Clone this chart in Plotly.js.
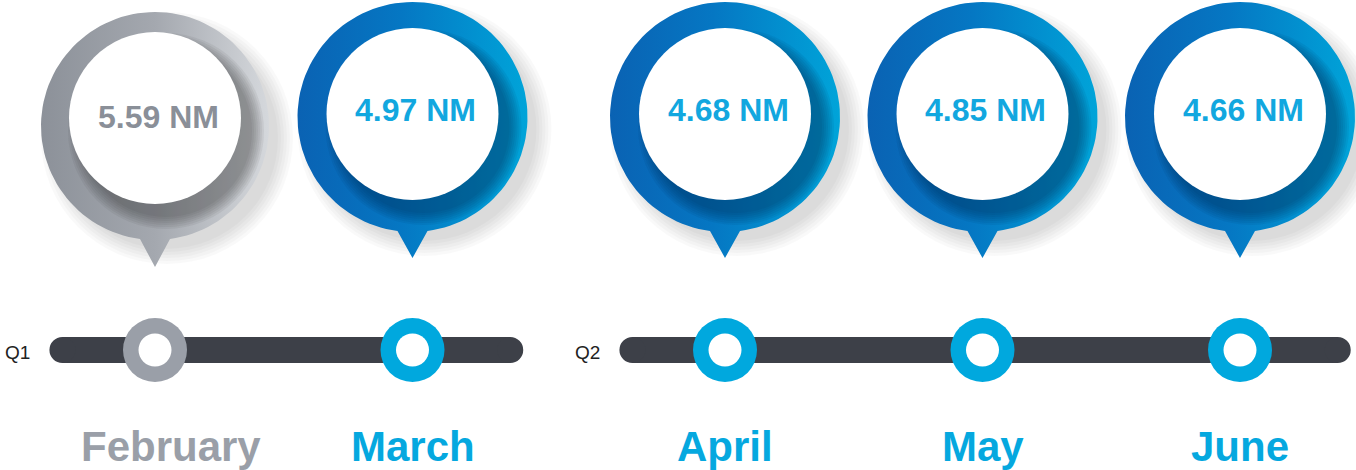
<!DOCTYPE html>
<html>
<head>
<meta charset="utf-8">
<script src="https://cdn.plot.ly/plotly-3.0.1.min.js"></script>
<style>html,body{margin:0;padding:0;background:#fff;}#chart{width:1356px;height:470px;}</style>
</head>
<body>
<div id="chart"></div>
<script>
// ---- data ----
const months = ['February', 'March', 'April', 'May', 'June'];
const monthNumbers = [2, 3, 4, 5, 6];
const quarters = ['Q1', 'Q1', 'Q2', 'Q2', 'Q2'];
const values = [5.59, 4.97, 4.68, 4.85, 4.66];
const quarterLabels = ['Q1', 'Q2'];
const unit = 'NM';

// ---- layout constants ----
const W = 1356, H = 470;
const PX_PER_SLOT = 257.5;            // pixels per month on the x axis
const QUARTER_GAP = 55 / PX_PER_SLOT; // extra gap between quarters (in months)
const X_START = 2 - 155 / PX_PER_SLOT;
const dx = px => px / PX_PER_SLOT;    // pixel distance -> x units (y axis is in pixel units)

const BLUE_SCALE = [[0, '#0A62B3'], [0.45, '#0577C3'], [1, '#00A4D9']];
const GREY_SCALE = [[0, '#8C9199'], [0.5, '#A4A8AF'], [1, '#D5D8DC']];
const BLUE = '#00A8DE', GREY = '#9A9FA8', BAR = '#3D4048';

function xPos(i) {
  return monthNumbers[i] + QUARTER_GAP * quarterLabels.indexOf(quarters[i]);
}

const traces = [];
const shapes = [];
const annotations = [];

function circle(cx, cy, r, fill, layer) {
  shapes.push({type: 'circle', xref: 'x', yref: 'y', layer: layer || 'above',
    x0: cx - dx(r), x1: cx + dx(r), y0: cy - r, y1: cy + r,
    fillcolor: fill, line: {width: 0}});
}

months.forEach((m, i) => {
  const cx = xPos(i);
  const past = i === 0;
  const shiftO = past ? 9 : 0, shiftI = past ? 4 : 0;
  const R = past ? 114 : 115;
  const cyO = 117 + shiftO;
  const cyI = 114 + shiftI;
  const rI = 86;
  const tipY = 141;

  // outer drop shadow (below)
  [16, 13, 10, 7, 4, 1].forEach(e => circle(cx + dx(12), cyO + 12, R + e - 4, 'rgba(0,0,0,0.022)', 'below'));

  // ring + pointer polygon with gradient
  const xs = [], ys = [];
  const d = Math.asin(15 / R);
  const n = 120;
  for (let k = 0; k <= n; k++) {
    const a = Math.PI / 2 + d + (2 * Math.PI - 2 * d) * k / n;
    xs.push(cx + dx(R * Math.cos(a)));
    ys.push(cyO + R * Math.sin(a));
  }
  xs.push(cx); ys.push(cyO + tipY);
  xs.push(xs[0]); ys.push(ys[0]);
  traces.push({type: 'scatter', mode: 'lines', x: xs, y: ys, fill: 'toself',
    line: {width: 0}, hoverinfo: 'skip', showlegend: false,
    fillgradient: {type: 'horizontal', colorscale: past ? GREY_SCALE : BLUE_SCALE,
      start: cx - dx(R), stop: cx + dx(R)}});

  // inner shadow cast on ring
  const sc = past ? 'rgba(40,42,50,0.065)' : 'rgba(0,40,80,0.075)';
  [12, 10, 8, 6, 4, 2, 0].forEach(e => circle(cx + dx(11), cyI + 13, rI + e, sc));
  // white face
  circle(cx, cyI, rI, '#FFFFFF');

  // value text
  annotations.push({x: cx + dx(3), y: 110 + (past ? 7 : 0), xref: 'x', yref: 'y',
    text: values[i].toFixed(2) + ' ' + unit, showarrow: false,
    xanchor: 'center', yanchor: 'middle',
    font: {family: 'Arial, Liberation Sans, sans-serif', size: 32, color: past ? '#8A8F98' : '#12A7DF', weight: 'bold'}});

  // month label
  annotations.push({x: cx, y: 446, xref: 'x', yref: 'y', text: '<b>' + m + '</b>', showarrow: false,
    xanchor: 'center', yanchor: 'middle', xshift: past ? 16 : 0,
    font: {family: 'Arial, Liberation Sans, sans-serif', size: 42, color: past ? GREY : '#05A8DF'}});
});

// timeline bars per quarter
quarterLabels.forEach((q, qi) => {
  const idx = quarters.map((v, i) => v === q ? i : -1).filter(i => i >= 0);
  const first = xPos(idx[0]);
  const x0 = first - 0.41, x1 = xPos(idx[idx.length - 1]) + 0.43;
  const yc = 350, h = 13;
  shapes.push({type: 'rect', xref: 'x', yref: 'y', layer: 'above',
    x0: x0 + dx(h), x1: x1 - dx(h), y0: yc - h, y1: yc + h, fillcolor: BAR, line: {width: 0}});
  circle(x0 + dx(h), yc, h, BAR);
  circle(x1 - dx(h), yc, h, BAR);
  annotations.push({x: first - dx(138), y: 352, xref: 'x', yref: 'y', text: q, showarrow: false,
    xanchor: 'center', yanchor: 'middle',
    font: {family: 'Arial, Liberation Sans, sans-serif', size: 19, color: '#222222'}});
});

// timeline dots
months.forEach((m, i) => {
  const cx = xPos(i);
  circle(cx, 350, 32, i === 0 ? GREY : BLUE);
  circle(cx, 350, 16.5, '#FFFFFF');
});

const layout = {
  width: W, height: H,
  margin: {l: 0, r: 0, t: 0, b: 0, pad: 0},
  paper_bgcolor: '#FFFFFF', plot_bgcolor: '#FFFFFF',
  showlegend: false,
  xaxis: {range: [X_START, X_START + W / PX_PER_SLOT], visible: false, fixedrange: true},
  yaxis: {range: [H, 0], visible: false, fixedrange: true},
  shapes: shapes,
  annotations: annotations
};

Plotly.newPlot('chart', traces, layout, {displayModeBar: false, staticPlot: true});
</script>
</body>
</html>
